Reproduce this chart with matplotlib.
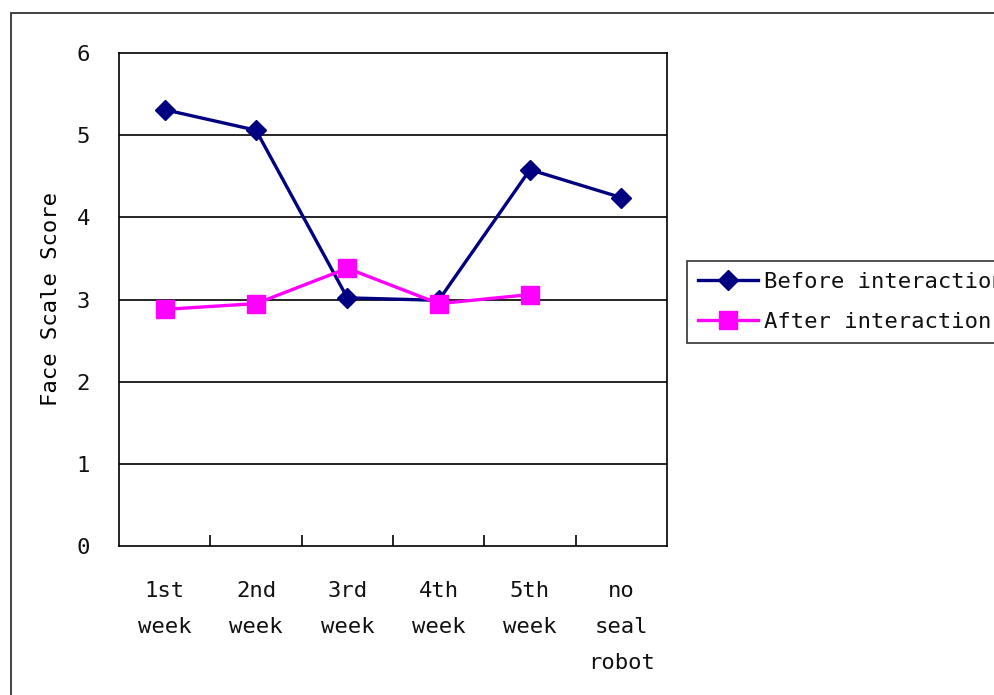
import matplotlib
matplotlib.use("Agg")
import matplotlib.pyplot as plt
from matplotlib.patches import Rectangle

# Face scale scores per session
categories = ["1st\nweek", "2nd\nweek", "3rd\nweek", "4th\nweek", "5th\nweek", "no\nseal\nrobot"]
before = [5.31, 5.06, 3.02, 2.99, 4.58, 4.24]
after = [2.88, 2.95, 3.38, 2.95, 3.06]

plt.rcParams['font.family'] = ['DejaVu Sans Mono']
plt.rcParams['text.color'] = '#111111'

fig = plt.figure(figsize=(9.94, 6.95), dpi=100)

# outer chart frame (runs off the right and bottom edges)
fig.patches.append(Rectangle((11 / 994, -0.05), 1.2, 1 - 13 / 695 + 0.05,
                             transform=fig.transFigure, fill=False,
                             edgecolor='#333333', linewidth=1.3, clip_on=False))

ax = fig.add_axes([119 / 994, 1 - 546 / 695, (667 - 119) / 994, (546 - 53) / 695])

x_before = list(range(len(before)))
x_after = list(range(len(after)))

ax.plot(x_before, before, color='#000080', linewidth=2.4, marker='D',
        markersize=10, label='Before interaction', zorder=3)
ax.plot(x_after, after, color='#FF00FF', linewidth=2.4, marker='s',
        markersize=12.5, label='After interaction', zorder=4)

ax.set_xlim(-0.5, len(categories) - 0.5)
ax.set_ylim(0, 6)

# horizontal gridlines
for y in range(1, 6):
    ax.axhline(y, color='black', linewidth=1.2, zorder=1)

for s in ax.spines.values():
    s.set_color('black')
    s.set_linewidth(1.2)

ax.set_yticks(range(0, 7))
ax.tick_params(axis='y', length=0, pad=21, labelsize=16, labelcolor='#111111')

# category dividers as inward ticks, labels at centres
ax.set_xticks([i + 0.5 for i in range(len(categories) - 1)])
ax.set_xticklabels([])
ax.tick_params(axis='x', which='major', direction='in', length=8, width=1.2)
ax.set_xticks(range(len(categories)), minor=True)
ax.set_xticklabels(categories, minor=True, fontsize=16, linespacing=2.0,
                   va='top', ha='center', multialignment='center',
                   color='#111111')
ax.tick_params(axis='x', which='minor', length=0, pad=25)

ax.set_ylabel("Face Scale Score", fontsize=16, labelpad=11)

leg = fig.legend(loc='upper left', bbox_to_anchor=(687 / 994, 1 - 261 / 695),
                 fontsize=16, frameon=True, fancybox=False, handlelength=2.7,
                 handletextpad=0.27, labelspacing=0.9, borderpad=0.5,
                 borderaxespad=0)
leg.get_frame().set_edgecolor('black')
leg.get_frame().set_linewidth(1.2)

fig.savefig("out.png", dpi=100)
